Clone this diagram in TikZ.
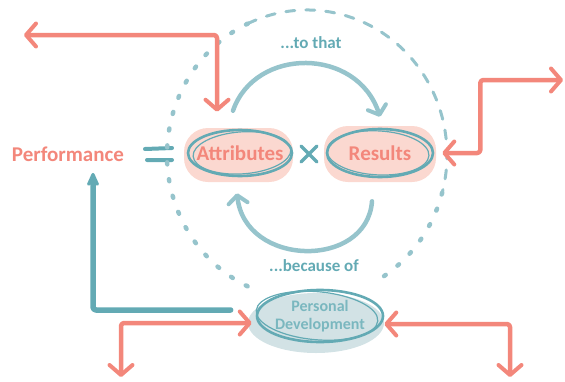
\documentclass[tikz,border=0pt]{standalone}
\usepackage{fontspec}
\setmainfont{Carlito}
\usetikzlibrary{arrows.meta,positioning,calc,shapes.geometric}
\definecolor{coral}{HTML}{F3877B}
\definecolor{blush}{HTML}{FBD8D0}
\definecolor{sea}{HTML}{63AAB4}
\definecolor{mist}{HTML}{96C4CC}
\definecolor{fog}{HTML}{D2E2E5}

\begin{document}
\begin{tikzpicture}[x=1pt, y=-1pt,
  >={Straight Barb[length=10pt, width=23pt, line width=4pt, round]},
  word/.style={font=\fontsize{21}{24}\selectfont\bfseries, text=coral},
  note/.style={font=\fontsize{17}{19}\selectfont\bfseries, text=sea},
  oval/.style={ellipse, draw=sea, line width=2.6pt, inner sep=0pt},
  link/.style={coral, line width=4.5pt, line cap=round, line join=round, rounded corners=3pt},
  loop/.style={mist, line width=4.5pt, line cap=round, -{Straight Barb[length=8pt, width=19pt, line width=4pt, round]}},
  ring/.style={mist, line width=3pt, line cap=round}]
  \useasboundingbox (0,0) rectangle (565,381);

  % soft fills behind the ovals
  \fill[blush, rounded corners=24pt] (184,128) rectangle (293,182);
  \fill[blush, rounded corners=24pt] (324,126) rectangle (436,182);
  \fill[fog] (316,323) ellipse [x radius=68, y radius=30];

  % the equation
  \node[word] (perf) at (68,154) {Performance};
  \node[oval, minimum width=104pt, minimum height=46pt,
        label={[word]center:Attributes}] (attr) at (240,153) {};
  \node[oval, minimum width=106pt, minimum height=48pt,
        label={[word]center:Results}] (res) at (380,153) {};
  \node[oval, minimum width=126pt, minimum height=52pt,
        label={[align=center, text=sea!85!white, font=\fontsize{16}{18}\selectfont\bfseries]center:Personal\\Development}] (pd) at (320,316) {};
  \draw[sea, line width=1.2pt, rotate around={4:(attr.center)}] ([xshift=2pt]attr.center) ellipse [x radius=49, y radius=21];
  \draw[sea, line width=1.2pt, rotate around={-3:(res.center)}] ([xshift=-2pt]res.center) ellipse [x radius=51, y radius=22];
  \draw[sea, line width=1.2pt, rotate around={-5:(pd.center)}] ([xshift=-3pt]pd.center) ellipse [x radius=61, y radius=24];

  \coordinate (eq) at (158,154);
  \draw[sea, line width=4pt, line cap=round]
    ([shift={(-13,-5)}]eq) -- ([shift={(14,-6)}]eq)
    ([shift={(-11,6)}]eq) -- ([shift={(14,6)}]eq);
  \coordinate (times) at (309,154);
  \draw[sea, line width=3.5pt, line cap=round]
    ([shift={(-8,-8)}]times) -- ([shift={(8,8)}]times)
    ([shift={(8,-8)}]times) -- ([shift={(-8,8)}]times);

  % the ring
  \coordinate (hub) at (307,155);
  \draw[ring, dash pattern=on 9pt off 11pt] ($(hub)+(-115:140 and 145)$)
    arc[start angle=-115, end angle=15, x radius=140, y radius=145];
  \draw[ring, line width=4.5pt, dash pattern=on 2pt off 15pt] ($(hub)+(-115:140 and 145)$)
    arc[start angle=-115, end angle=-245, x radius=140, y radius=145];
  \draw[ring, line width=4.5pt, dash pattern=on 2pt off 15pt] ($(hub)+(15:140 and 145)$)
    arc[start angle=15, end angle=62, x radius=140, y radius=145];

  % the loop
  \node[note] (tothat) at (311,43) {...to that};
  \node[note] (because) at (314,266) {...because of};
  \draw[loop] ([shift={(-7,-18)}]attr.north) .. controls +(22,-64) and +(-23,-70) .. ([yshift=11pt]res.north);
  \draw[loop] ([shift={(-8,23)}]res.south) .. controls +(-5,68) and +(8,74) .. ([shift={(-3,16)}]attr.south);

  % outside arrows
  \coordinate (farleft) at (24,35);
  \coordinate (farright) at (563,80);
  \coordinate (lowleft) at (121,377);
  \coordinate (lowright) at (510,377);
  \draw[link, <->] (farleft) -| ([shift={(-23,-17)}]attr.north);
  \draw[link, <->] (farright) -| ([xshift=46pt]res.east) -- ([xshift=8pt]res.east);
  \draw[link, <->] (lowleft) |- ([shift={(-4,7)}]pd.west);
  \draw[link, <->] ([shift={(0,8)}]pd.east) -| (lowright);
  \draw[sea, line width=5.5pt, line cap=round, line join=round, rounded corners=3pt,
        -{Stealth[length=18pt, width=16pt, round]}]
    ([shift={(-25,-6)}]pd.west) -| ([shift={(25,8)}]perf.south);
\end{tikzpicture}
\end{document}
